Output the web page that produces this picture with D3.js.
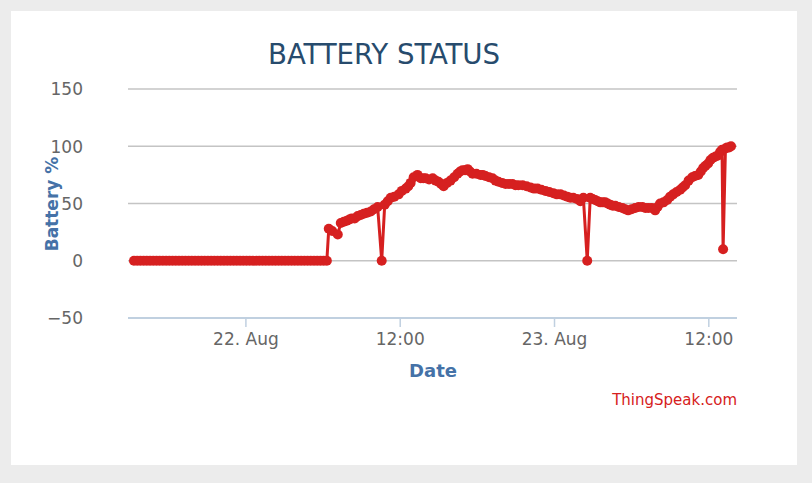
<!DOCTYPE html>
<html>
<head>
<meta charset="utf-8">
<script src="https://cdn.jsdelivr.net/npm/d3@7"></script>
<style>
  html, body { margin: 0; padding: 0; background: #ececec; }
  svg { display: block; }
</style>
</head>
<body>
<svg id="chart" width="812" height="483"></svg>
<script>
// ---- data ----
const times = [
  "08-21 15:20","08-21 15:35","08-21 15:50","08-21 16:05","08-21 16:20","08-21 16:35","08-21 16:50",
  "08-21 17:05","08-21 17:20","08-21 17:35","08-21 17:50","08-21 18:05","08-21 18:20","08-21 18:35",
  "08-21 18:50","08-21 19:05","08-21 19:20","08-21 19:35","08-21 19:50","08-21 20:05","08-21 20:20",
  "08-21 20:35","08-21 20:50","08-21 21:05","08-21 21:20","08-21 21:35","08-21 21:50","08-21 22:05",
  "08-21 22:20","08-21 22:35","08-21 22:50","08-21 23:05","08-21 23:20","08-21 23:35","08-21 23:50",
  "08-22 00:05","08-22 00:20","08-22 00:35","08-22 00:50","08-22 01:05","08-22 01:20","08-22 01:35",
  "08-22 01:50","08-22 02:05","08-22 02:20","08-22 02:35","08-22 02:50","08-22 03:05","08-22 03:20",
  "08-22 03:35","08-22 03:50","08-22 04:05","08-22 04:20","08-22 04:35",
  "08-22 04:50","08-22 05:05","08-22 05:20","08-22 05:35","08-22 05:50","08-22 06:05","08-22 06:20",
  "08-22 06:29","08-22 06:45","08-22 07:11","08-22 07:25","08-22 07:39","08-22 07:53",
  "08-22 08:05","08-22 08:16","08-22 08:30","08-22 08:44","08-22 08:58","08-22 09:12",
  "08-22 09:28","08-22 09:45","08-22 10:00","08-22 10:17","08-22 10:36","08-22 10:50",
  "08-22 11:04","08-22 11:18","08-22 11:35","08-22 11:55","08-22 12:10","08-22 12:28",
  "08-22 12:40","08-22 12:51","08-22 13:05","08-22 13:23","08-22 13:38","08-22 13:50",
  "08-22 14:01","08-22 14:17","08-22 14:34","08-22 14:48","08-22 15:01","08-22 15:13",
  "08-22 15:25","08-22 15:41","08-22 15:57","08-22 16:14","08-22 16:30","08-22 16:42",
  "08-22 16:53","08-22 17:05","08-22 17:17","08-22 17:28","08-22 17:40","08-22 17:58",
  "08-22 18:17","08-22 18:28","08-22 18:40","08-22 18:57","08-22 19:13","08-22 19:27",
  "08-22 19:41","08-22 19:58","08-22 20:14","08-22 20:30","08-22 20:46","08-22 21:00",
  "08-22 21:14","08-22 21:33","08-22 21:52","08-22 22:10","08-22 22:27","08-22 22:43",
  "08-22 23:01","08-22 23:20","08-22 23:38","08-22 23:57","08-23 00:13","08-23 00:30",
  "08-23 00:46","08-23 01:02","08-23 01:16","08-23 01:30","08-23 01:47","08-23 02:03",
  "08-23 02:17","08-23 02:35","08-23 02:49","08-23 03:00","08-23 03:12","08-23 03:24",
  "08-23 03:36","08-23 03:48","08-23 03:59","08-23 04:10","08-23 04:22","08-23 04:34",
  "08-23 04:46","08-23 05:02","08-23 05:19","08-23 05:32","08-23 05:46","08-23 06:02",
  "08-23 06:19","08-23 06:35","08-23 06:52","08-23 07:06","08-23 07:20","08-23 07:36",
  "08-23 07:52","08-23 08:03","08-23 08:15","08-23 08:31","08-23 08:48","08-23 09:02",
  "08-23 09:16","08-23 09:32","08-23 09:49","08-23 10:00","08-23 10:12","08-23 10:28",
  "08-23 10:45","08-23 10:58","08-23 11:13","08-23 11:25","08-23 11:36","08-23 11:47",
  "08-23 11:59","08-23 12:10","08-23 12:22","08-23 12:34","08-23 12:46","08-23 12:55",
  "08-23 13:04","08-23 13:09","08-23 13:20","08-23 13:28","08-23 13:37","08-23 13:46"
];
const batteryValues = [
  0,0,0,0,0,0,0,
  0,0,0,0,0,0,0,
  0,0,0,0,0,0,0,
  0,0,0,0,0,0,0,
  0,0,0,0,0,0,0,
  0,0,0,0,0,0,0,
  0,0,0,0,0,0,0,
  0,0,0,0,0,
  0,0,0,0,0,0,0,
  28,26,23,33,34,35,
  36,37,37,39,40,41,
  42,43,45,47,0,49,
  52,55,56,58,61,63,
  65,68,73,75,72,72,
  72,71,72,70,69,67,
  65,68,70,73,76,78,
  79,79,80,78,76,76,
  75,75,74,73,72,70,
  69,68,67,67,67,66,
  66,66,65,64,63,63,
  62,61,60,59,58,58,
  57,56,55,55,54,52,
  55,0,55,54,53,52,
  51,51,51,50,49,48,
  48,47,46,45,44,45,
  46,47,47,46,46,46,
  44,47,50,51,53,56,
  58,60,62,64,66,70,
  73,74,75,78,81,83,
  85,88,90,91,92,95,
  97,10,98,99,99,100
];
const yTicks = [-50, 0, 50, 100, 150];
const xTickTimes = ["08-22 00:00","08-22 12:00","08-23 00:00","08-23 12:00"];
const xTickLabels = ["22. Aug","12:00","23. Aug","12:00"];
const titleText = "BATTERY STATUS";
const yTitle = "Battery %";
const xTitle = "Date";
const creditText = "ThingSpeak.com";

// ---- drawing ----
const parse = d3.timeParse("%m-%d %H:%M");
const data = times.map((t, i) => ({ t: parse(t), v: batteryValues[i] }));

const svg = d3.select("#chart");
const W = 812, H = 483;
const plot = { left: 128, right: 737, top: 89, bottom: 318 };

svg.append("rect").attr("x", 0).attr("y", 0).attr("width", W).attr("height", H).attr("fill", "#ececec");
svg.append("rect").attr("x", 11).attr("y", 11).attr("width", 786).attr("height", 454).attr("fill", "#ffffff");

const ext = d3.extent(data, d => d.t);
const span = ext[1] - ext[0];
const x = d3.scaleTime()
  .domain([new Date(+ext[0] - span * 0.01), new Date(+ext[1] + span * 0.01)])
  .range([plot.left, plot.right]);
const y = d3.scaleLinear().domain([-50, 150]).range([plot.bottom, plot.top]);

// grid
svg.append("g").selectAll("line").data(yTicks.filter(v => v !== -50)).join("line")
  .attr("x1", plot.left).attr("x2", plot.right)
  .attr("y1", d => y(d)).attr("y2", d => y(d))
  .attr("stroke", "#c4c4c4").attr("stroke-width", 1.5);

// y axis labels
const yAxis = d3.axisLeft(y).tickValues(yTicks).tickSize(0).tickPadding(0)
  .tickFormat(d => d < 0 ? "\u2212" + Math.abs(d) : d);
const yg = svg.append("g").attr("transform", `translate(${plot.left - 45},0)`).call(yAxis);
yg.select(".domain").remove();
yg.selectAll("text").attr("fill", "#666666").attr("font-family", "DejaVu Sans, sans-serif")
  .attr("font-size", 17).attr("dy", "0.35em");

// x axis
const xAxis = d3.axisBottom(x).tickValues(xTickTimes.map(parse)).tickSize(9).tickPadding(6)
  .tickFormat((d, i) => xTickLabels[i]);
const xg = svg.append("g").attr("transform", `translate(0,${plot.bottom})`).call(xAxis);
xg.select(".domain").attr("d", `M${plot.left},0H${plot.right}`).attr("stroke", "#c0d0e0").attr("stroke-width", 2);
xg.selectAll(".tick line").attr("stroke", "#c0d0e0").attr("stroke-width", 1.5);
xg.selectAll("text").attr("fill", "#666666").attr("font-family", "DejaVu Sans, sans-serif")
  .attr("font-size", 17);

// line
const line = d3.line().x(d => x(d.t)).y(d => y(d.v));
svg.append("path").datum(data).attr("d", line)
  .attr("fill", "none").attr("stroke", "#d62020").attr("stroke-width", 3).attr("stroke-linejoin", "round");
svg.append("g").selectAll("circle").data(data).join("circle")
  .attr("cx", d => x(d.t)).attr("cy", d => y(d.v)).attr("r", 5).attr("fill", "#d62020");

// titles
svg.append("text").attr("x", 384).attr("y", 64).attr("text-anchor", "middle")
  .attr("font-family", "Liberation Sans Narrow, DejaVu Sans Condensed, Roboto, sans-serif")
  .attr("font-size", 29).attr("textLength", 232).attr("lengthAdjust", "spacingAndGlyphs")
  .attr("fill", "#274b6d").text(titleText);

svg.append("text").attr("transform", "translate(58,204) rotate(-90)").attr("text-anchor", "middle")
  .attr("font-family", "DejaVu Sans, sans-serif").attr("font-weight", "bold")
  .attr("font-size", 17).attr("fill", "#4572a7").text(yTitle);

svg.append("text").attr("x", 433).attr("y", 377).attr("text-anchor", "middle")
  .attr("font-family", "DejaVu Sans, sans-serif").attr("font-weight", "bold")
  .attr("font-size", 18).attr("fill", "#4572a7").text(xTitle);

svg.append("text").attr("x", 737).attr("y", 405).attr("text-anchor", "end")
  .attr("font-family", "DejaVu Sans, sans-serif")
  .attr("font-size", 15).attr("fill", "#d62020").text(creditText);
</script>
</body>
</html>
